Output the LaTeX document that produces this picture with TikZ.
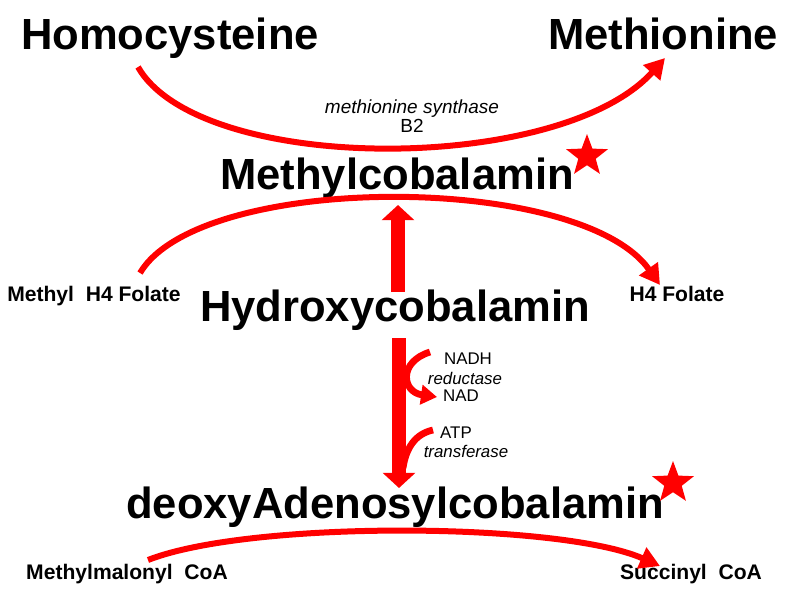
\documentclass[tikz,border=0pt]{standalone}
\usepackage{fontspec}
\setmainfont{Liberation Sans}
\usepackage{xcolor}
\definecolor{cRed}{HTML}{FF0000}
\definecolor{cInk}{HTML}{000000}
\usetikzlibrary{arrows.meta,shapes.geometric}
\tikzset{
  node-big/.style={inner sep=0pt,anchor=base,text=cInk,font=\fontsize{31}{34}\selectfont\bfseries},
  node-side/.style={inner sep=0pt,anchor=base,text=cInk,font=\fontsize{15}{17}\selectfont\bfseries},
  node-enzyme/.style={inner sep=0pt,text=cInk,align=center,font=\fontsize{12}{14}\selectfont},
  node-star/.style={star,star points=5,star point ratio=2.4,fill=cRed,inner sep=0pt,minimum size=11mm},
  arrow-arc/.style={-{Triangle[length=5mm,width=5.5mm]},line width=1.5mm,draw=cRed},
  arrow-fat/.style={-{Triangle[length=3.8mm,width=8mm]},line width=3.6mm,draw=cRed},
  arrow-small/.style={-{Triangle[length=4mm,width=4.8mm]},line width=1.7mm,draw=cRed},
}
\begin{document}
\begin{tikzpicture}[x=0.25mm,y=-0.25mm]
  \useasboundingbox (0,0) rectangle (800,600);
  % compounds
  \node[node-big] (homo) at (170,49) {Homocysteine};
  \node[node-big] (meth) at (663,49) {Methionine};
  \node[node-big] (mecbl) at (397,189) {Methylcobalamin};
  \node[node-big] (ohcbl) at (395,321) {Hydroxycobalamin};
  \node[node-big] (adocbl) at (395,518) {deoxyAdenosylcobalamin};
  \node[node-star] (star1) at (587,156) {};
  \node[node-star] (star2) at (673,483) {};
  \node[node-side] (mefol) at (94,301) {Methyl\ \ H4 Folate};
  \node[node-side] (h4fol) at (677,301) {H4 Folate};
  \node[node-side] (mmcoa) at (127,579) {Methylmalonyl\ \ CoA};
  \node[node-side] (succoa) at (691,579) {Succinyl\ \ CoA};
  % enzyme labels
  \node[node-enzyme,font=\fontsize{13.5}{13.5}\selectfont] (synth) at (412,116) {\textit{methionine synthase}\\B2};
  \node[node-enzyme] (nadh) at (468,359) {NADH};
  \node[node-enzyme] (reduct) at (465,378) {\textit{reductase}};
  \node[node-enzyme] (nad) at (461,396) {NAD};
  \node[node-enzyme] (atp) at (456,433) {ATP};
  \node[node-enzyme] (transf) at (466,451) {\textit{transferase}};
  \coordinate (upfoot) at (398,292);
  \coordinate (uptip) at (398,205);
  \coordinate (dnfoot) at (399,338);
  \coordinate (dntip) at (399,488);
  \coordinate (join) at (403,468);
  % arrows
  \draw[arrow-arc] (138,67) .. controls (200,175) and (560,175) .. (665,58);
  \draw[arrow-arc] (140,273) .. controls (200,172) and (580,172) .. (660,285);
  \draw[arrow-arc] (148,560) .. controls (250,520) and (560,522) .. (660,566);
  \draw[arrow-fat] (upfoot) -- (uptip);
  \draw[arrow-fat] (dnfoot) -- (dntip);
  \draw[arrow-small] (430,352) .. controls (398,362) and (402,392) .. (437,397);
  \draw[line width=1.7mm,draw=cRed] (433,430) .. controls (415,434) and (406,448) .. (join);
\end{tikzpicture}
\end{document}
